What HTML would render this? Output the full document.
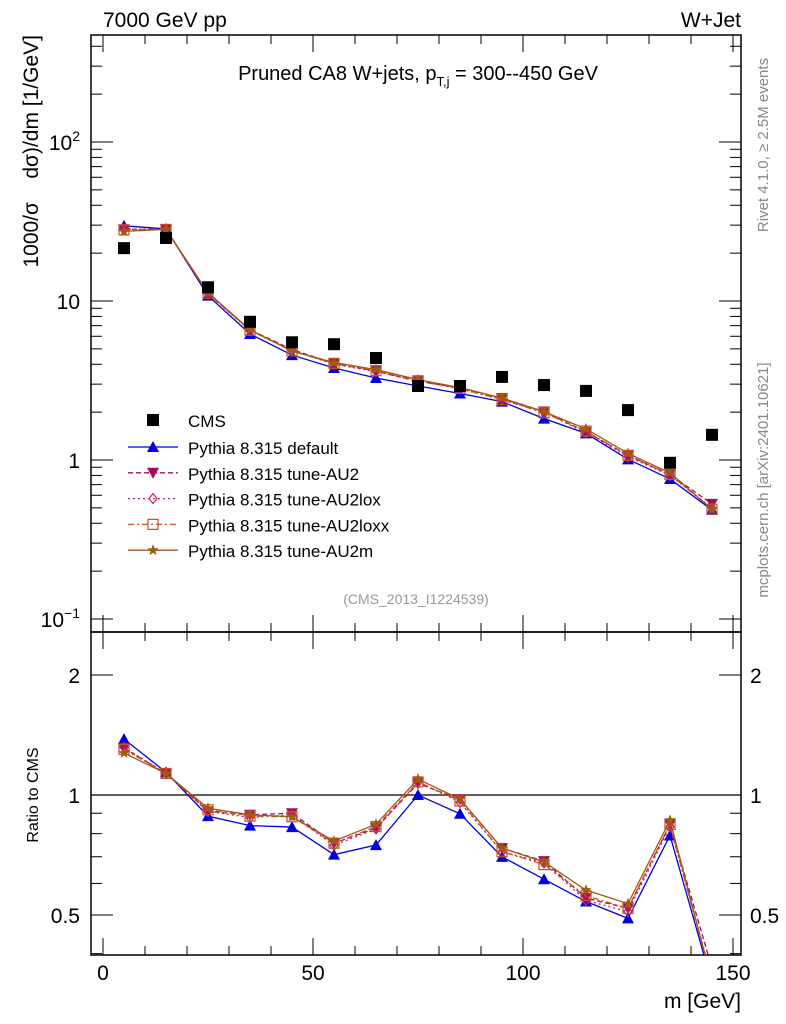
<!DOCTYPE html>
<html><head><meta charset="utf-8"><style>
body{margin:0;background:#fff;position:relative}
svg{display:block;font-family:"Liberation Sans","DejaVu Sans",sans-serif}
</style></head><body>
<svg id="chart" width="786" height="1024" viewBox="0 0 786 1024">
<g id="g"></g>
</svg>
<script>
const bins=[5,15,25,35,45,55,65,75,85,95,105,115,125,135,145];
const cms=[21.5,24.9,12.2,7.4,5.5,5.35,4.38,2.92,2.92,3.33,2.96,2.72,2.06,0.96,1.44];
const pyDefault=[29.7,28.4,10.8,6.2,4.57,3.79,3.28,2.92,2.62,2.33,1.82,1.47,1.01,0.76,0.485];
const pyAU2=[28.2,28.2,11.1,6.6,4.95,4.05,3.62,3.12,2.85,2.45,2.02,1.5,1.07,0.81,0.53];
const pyAU2lox=[28.3,28.2,11.1,6.5,4.9,4.0,3.6,3.15,2.8,2.4,2.0,1.48,1.05,0.8,0.5];
const pyAU2loxx=[28.0,28.2,11.2,6.55,4.85,4.05,3.65,3.15,2.82,2.4,1.98,1.52,1.07,0.81,0.49];
const pyAU2m=[27.4,28.2,11.3,6.6,4.85,4.1,3.7,3.2,2.85,2.45,2.01,1.57,1.1,0.83,0.49];
const xTicks=[0,50,100,150];
const series=[
 {name:"Pythia 8.315 default",key:"default",v:pyDefault,c:"#0000e0",dash:"",m:"tri"},
 {name:"Pythia 8.315 tune-AU2",key:"au2",v:pyAU2,c:"#a0105a",dash:"5,3",m:"itri"},
 {name:"Pythia 8.315 tune-AU2lox",key:"au2lox",v:pyAU2lox,c:"#c82060",dash:"2,3",m:"dia"},
 {name:"Pythia 8.315 tune-AU2loxx",key:"au2loxx",v:pyAU2loxx,c:"#c85028",dash:"6,3,2,3",m:"sq"},
 {name:"Pythia 8.315 tune-AU2m",key:"au2m",v:pyAU2m,c:"#a05a10",dash:"",m:"star"}
];
const L=91,R=741,T=35,MB=632,RB=955;
const X=v=>103+v*4.2;
const Y=v=>460-159*Math.log10(v);
const YR=v=>795-120*Math.log2(v);
const NS="http://www.w3.org/2000/svg";
const g=document.getElementById('g');
function el(t,a,p){const e=document.createElementNS(NS,t);for(const k in a)e.setAttribute(k,a[k]);(p||g).appendChild(e);return e;}
function txt(s,a,p){const e=el('text',a,p);e.textContent=s;return e;}
const defs=el('defs',{});
const c1=el('clipPath',{id:'cm'},defs);el('rect',{x:L,y:T,width:R-L,height:MB-T},c1);
const c2=el('clipPath',{id:'cr'},defs);el('rect',{x:L,y:MB,width:R-L,height:RB-MB},c2);
let f=el('rect',{x:L,y:T,width:R-L,height:MB-T,fill:'none',stroke:'#000','stroke-width':1.5});

f=el('rect',{x:L,y:MB,width:R-L,height:RB-MB,fill:'none',stroke:'#000','stroke-width':1.5});

for(let v=0;v<=150;v+=10){const x=X(v);const maj=v%50===0;const l=maj?17:9;
 [[T,1],[MB,-1],[MB,1],[RB,-1]].forEach(([y,d])=>el('line',{x1:x,x2:x,y1:y,y2:y+d*l,stroke:'#000'}));}
xTicks.forEach(v=>{const t=txt(String(v),{x:X(v),y:980,'font-size':21,'text-anchor':'middle'});
 });
for(let e=-1;e<=2;e++)for(let k=1;k<10;k++){const v=k*Math.pow(10,e);const y=Y(v);if(y<T||y>MB)continue;const l=k===1?22:11;
 el('line',{x1:L,x2:L+l,y1:y,y2:y,stroke:'#000'});el('line',{x1:R,x2:R-l,y1:y,y2:y,stroke:'#000'});}
const yl=[["10",-1,Y(0.1)],["1","",Y(1)],["10","",Y(10)],["10",2,Y(100)]];
yl.forEach(([b,s,y])=>{const t=txt('',{x:80,y:y+8,'font-size':21,'text-anchor':'end'});
 
 if(s===""){t.textContent=b;}else{const ts1=el('tspan',{},t);ts1.textContent=b;const ts2=el('tspan',{dy:-9,'font-size':14},t);ts2.textContent=s===-1?'−1':'2';}});
for(const v of [0.4,0.5,0.6,0.7,0.8,0.9,1,2]){const y=YR(v);const maj=(v===0.5||v===1||v===2);const l=maj?22:11;
 el('line',{x1:L,x2:L+l,y1:y,y2:y,stroke:'#000'});el('line',{x1:R,x2:R-l,y1:y,y2:y,stroke:'#000'});}
[["2",2],["1",1],["0.5",0.5]].forEach(([s,v])=>{
 let t=txt(s,{x:80,y:YR(v)+8,'font-size':21,'text-anchor':'end'});
 t=txt(s,{x:750,y:YR(v)+8,'font-size':21});});
el('line',{x1:L,x2:R,y1:YR(1),y2:YR(1),stroke:'#000','stroke-width':1.2});
function marker(type,x,y,c,p){const s=5;let e;
 if(type==='sq')e=el('rect',{x:x-s,y:y-s,width:2*s,height:2*s,fill:'none',stroke:c,'stroke-width':1.2},p);
 else if(type==='fsq')e=el('rect',{x:x-6,y:y-6,width:12,height:12,fill:c},p);
 else if(type==='tri')e=el('polygon',{points:`${x},${y-6} ${x-6},${y+5} ${x+6},${y+5}`,fill:c},p);
 else if(type==='itri')e=el('polygon',{points:`${x},${y+6} ${x-6},${y-5} ${x+6},${y-5}`,fill:c},p);
 else if(type==='dia')e=el('polygon',{points:`${x},${y-5} ${x+4},${y} ${x},${y+5} ${x-4},${y}`,fill:'none',stroke:c,'stroke-width':1.2},p);
 else {let pts=[];for(let i=0;i<10;i++){const r=i%2?2.5:6;const a=-Math.PI/2+i*Math.PI/5;pts.push((x+r*Math.cos(a)).toFixed(1)+','+(y+r*Math.sin(a)).toFixed(1));}
  e=el('polygon',{points:pts.join(' '),fill:c},p);}
 return e;}
const gm=el('g',{'clip-path':'url(#cm)'});
const gr=el('g',{'clip-path':'url(#cr)'});
series.forEach(s=>{
 const path=bins.map((b,i)=>(i?'L':'M')+X(b)+','+Y(s.v[i])).join(' ');
 let e=el('path',{d:path,fill:'none',stroke:s.c,'stroke-width':1.3,'stroke-dasharray':s.dash},gm);
 
 bins.forEach((b,i)=>{const m=marker(s.m,X(b),Y(s.v[i]),s.c,gm);
  });
 const rp=bins.map((b,i)=>(i?'L':'M')+X(b)+','+YR(s.v[i]/cms[i])).join(' ');
 e=el('path',{d:rp,fill:'none',stroke:s.c,'stroke-width':1.3,'stroke-dasharray':s.dash},gr);
 
 bins.forEach((b,i)=>{const m=marker(s.m,X(b),YR(s.v[i]/cms[i]),s.c,gr);
  });
});
bins.forEach((b,i)=>{const m=marker('fsq',X(b),Y(cms[i]),'#000',gm);
 });
const lg=el('g',{});
let m=marker('fsq',153,420,'#000',lg);
let t=txt('CMS',{x:188,y:427,'font-size':17},lg);
series.forEach((s,i)=>{const y=447+i*25.8;
 el('line',{x1:128,x2:178,y1:y,y2:y,stroke:s.c,'stroke-width':1.3,'stroke-dasharray':s.dash},lg);
 marker(s.m,153,y,s.c,lg);
 const tt=txt(s.name,{x:188,y:y+7,'font-size':17},lg);
 });
</script>
<svg width="786" height="1024" style="position:absolute;left:0;top:0">
<text x="103" y="27" font-size="21">7000 GeV pp</text>
<text x="741" y="27" font-size="21" text-anchor="end">W+Jet</text>
<text x="418" y="80" font-size="20" text-anchor="middle">Pruned CA8 W+jets, p<tspan dy="6" font-size="13">T,j</tspan><tspan dy="-6"> = 300--450 GeV</tspan></text>
<text x="416" y="604" font-size="14" fill="#999" text-anchor="middle">(CMS_2013_I1224539)</text>
<text x="741" y="1008" font-size="21" text-anchor="end">m [GeV]</text>
<text transform="translate(38,35) rotate(-90)" font-size="21" text-anchor="end" xml:space="preserve">1000/σ    dσ)/dm [1/GeV]</text>
<text transform="translate(38,795) rotate(-90)" font-size="16" text-anchor="middle">Ratio to CMS</text>
<text transform="translate(768,145) rotate(-90)" font-size="15" fill="#888" text-anchor="middle">Rivet 4.1.0, ≥ 2.5M events</text>
<text transform="translate(768,480) rotate(-90)" font-size="15" fill="#888" text-anchor="middle">mcplots.cern.ch [arXiv:2401.10621]</text>
</svg>
</body></html>
